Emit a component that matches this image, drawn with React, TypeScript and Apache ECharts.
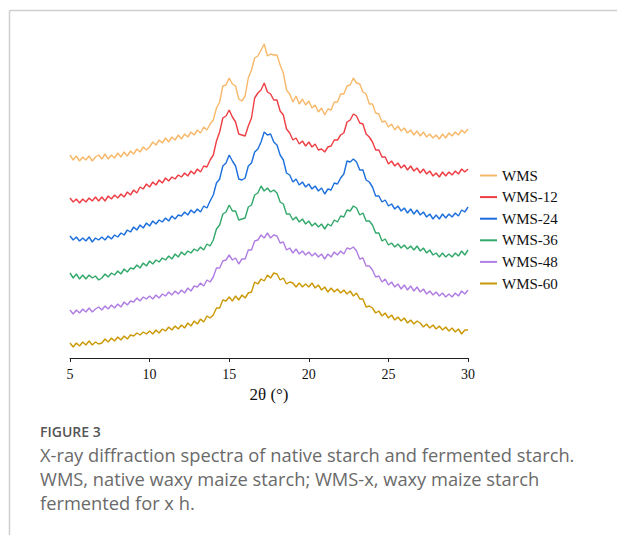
import React, { useEffect, useRef } from "react";
import * as echarts from "echarts";

// 2θ sampling grid of the diffractograms (degrees)
const thetaStart = 5;
const thetaStep = 0.2;
const xTicks = [5, 10, 15, 20, 25, 30];

const seriesNames = ["WMS", "WMS-12", "WMS-24", "WMS-36", "WMS-48", "WMS-60"];
const seriesColors = ["#F8B86A", "#EE3E44", "#1C6FDC", "#33A86B", "#B07EE2", "#CB9906"];

// Intensities (a.u., stacked with offsets as displayed), 5.0° → 30.0° every 0.2°
const wms = [
  203, 198, 202, 197, 201,
  198, 202, 197, 201, 203,
  199, 204, 199, 203, 200,
  205, 201, 206, 202, 207,
  204, 209, 206, 211, 208,
  211, 216, 213, 218, 215,
  220, 216, 221, 218, 223,
  219, 224, 221, 226, 223,
  228, 225, 231, 228, 234,
  238, 250, 256, 272, 273,
  280, 274, 272, 259, 257,
  262, 280, 288, 300, 302,
  308, 314, 302, 304, 303,
  303, 293, 285, 268, 264,
  256, 262, 254, 259, 253,
  257, 250, 253, 246, 250,
  243, 249, 248, 256, 256,
  264, 264, 272, 273, 280,
  275, 274, 266, 264, 254,
  254, 245, 244, 236, 237,
  231, 234, 228, 232, 227,
  230, 225, 228, 223, 227,
  222, 226, 221, 224, 220,
  223, 219, 224, 220, 225,
  222, 226, 223, 228, 225,
  229,
];
const wms12 = [
  160, 156, 159, 155, 159,
  156, 160, 157, 161, 157,
  161, 157, 162, 159, 163,
  160, 164, 161, 166, 163,
  168, 165, 171, 169, 174,
  171, 176, 173, 178, 175,
  180, 177, 181, 179, 183,
  181, 185, 182, 187, 184,
  189, 186, 192, 191, 198,
  203, 217, 226, 240, 242,
  248, 241, 236, 224, 223,
  222, 232, 240, 260, 265,
  268, 275, 266, 264, 258,
  258, 247, 243, 229, 225,
  218, 220, 214, 217, 212,
  216, 211, 214, 208, 209,
  206, 211, 212, 218, 218,
  223, 225, 236, 238, 244,
  242, 235, 234, 224, 221,
  216, 208, 208, 201, 201,
  194, 197, 192, 195, 190,
  193, 188, 192, 187, 190,
  185, 189, 184, 187, 182,
  185, 181, 186, 182, 186,
  183, 187, 184, 189, 186,
  189,
];
const wms24 = [
  122, 118, 121, 117, 120,
  117, 121, 116, 120, 118,
  121, 118, 122, 119, 123,
  121, 125, 123, 128, 126,
  131, 128, 133, 130, 135,
  132, 137, 134, 138, 136,
  140, 137, 142, 139, 143,
  142, 146, 143, 148, 145,
  149, 146, 152, 150, 157,
  163, 175, 179, 192, 195,
  203, 197, 192, 179, 178,
  180, 192, 195, 206, 209,
  216, 226, 223, 224, 216,
  213, 203, 198, 185, 183,
  176, 179, 173, 176, 171,
  174, 169, 172, 167, 170,
  164, 169, 168, 175, 174,
  180, 184, 197, 196, 199,
  196, 188, 188, 178, 176,
  171, 162, 162, 156, 158,
  152, 154, 149, 152, 147,
  150, 145, 149, 144, 148,
  143, 146, 141, 144, 139,
  143, 139, 144, 140, 144,
  141, 145, 142, 148, 146,
  151,
];
const wms36 = [
  85, 80, 84, 79, 83,
  79, 83, 80, 82, 78,
  80, 84, 81, 85, 83,
  87, 84, 89, 86, 90,
  89, 93, 90, 95, 92,
  97, 94, 98, 96, 100,
  98, 102, 99, 104, 101,
  106, 103, 107, 105, 109,
  107, 111, 108, 114, 112,
  118, 129, 133, 144, 146,
  153, 147, 147, 138, 139,
  140, 151, 153, 163, 165,
  172, 167, 170, 166, 168,
  165, 156, 154, 144, 144,
  138, 141, 136, 139, 134,
  137, 132, 135, 131, 134,
  129, 134, 132, 138, 136,
  142, 141, 148, 147, 152,
  150, 143, 145, 137, 137,
  133, 125, 125, 117, 119,
  113, 115, 111, 114, 110,
  113, 109, 112, 108, 112,
  107, 110, 105, 108, 103,
  105, 101, 105, 101, 104,
  101, 105, 102, 107, 103,
  108,
];
const wms48 = [
  48, 44, 48, 45, 49,
  46, 50, 46, 49, 51,
  48, 52, 49, 53, 50,
  54, 51, 56, 53, 57,
  56, 60, 57, 61, 59,
  62, 59, 63, 60, 64,
  62, 66, 63, 67, 64,
  68, 65, 70, 67, 72,
  71, 75, 72, 78, 76,
  81, 90, 90, 97, 98,
  103, 98, 100, 94, 99,
  99, 108, 108, 117, 118,
  123, 120, 125, 120, 123,
  122, 115, 116, 108, 110,
  105, 109, 104, 107, 103,
  106, 102, 105, 101, 104,
  99, 104, 101, 106, 103,
  107, 104, 110, 109, 111,
  107, 99, 100, 92, 92,
  88, 81, 82, 76, 79,
  73, 76, 71, 74, 69,
  73, 68, 72, 67, 71,
  66, 69, 64, 67, 63,
  66, 62, 65, 61, 64,
  61, 65, 62, 67, 64,
  68,
];
const wms60 = [
  15, 11, 15, 12, 16,
  13, 17, 13, 16, 14,
  15, 19, 16, 20, 17,
  21, 18, 22, 19, 23,
  22, 25, 23, 26, 24,
  27, 24, 28, 25, 29,
  27, 31, 28, 32, 29,
  33, 30, 35, 32, 37,
  34, 39, 36, 42, 40,
  43, 50, 50, 58, 57,
  61, 57, 62, 58, 63,
  60, 65, 66, 76, 74,
  79, 77, 83, 80, 85,
  84, 78, 80, 74, 76,
  75, 71, 75, 71, 74,
  71, 75, 70, 73, 68,
  71, 66, 70, 66, 69,
  65, 68, 64, 67, 62,
  65, 59, 59, 51, 52,
  50, 45, 47, 42, 45,
  40, 43, 38, 41, 37,
  40, 35, 38, 34, 37,
  35, 31, 34, 30, 33,
  29, 32, 28, 31, 27,
  30, 26, 29, 24, 28,
  28,
];
const seriesValues = [wms, wms12, wms24, wms36, wms48, wms60];

const captionTitle = "FIGURE 3";
const captionLines = [
  "X-ray diffraction spectra of native starch and fermented starch.",
  "WMS, native waxy maize starch; WMS-x, waxy maize starch",
  "fermented for x h.",
];

export default function App() {
  const ref = useRef<HTMLDivElement>(null);
  useEffect(() => {
    document.body.style.margin = "0";
    if (!ref.current) return;
    const chart = echarts.init(ref.current, null, { renderer: "svg" });
    const serif = "'Liberation Serif', 'Times New Roman', serif";
    chart.setOption({
      animation: false,
      backgroundColor: "#ffffff",
      grid: { left: 70, right: 149, top: 30, bottom: 177 },
      xAxis: {
        type: "value",
        min: xTicks[0],
        max: xTicks[xTicks.length - 1],
        interval: 5,
        name: "2θ (°)",
        nameLocation: "middle",
        nameGap: 21,
        nameTextStyle: { fontFamily: serif, fontSize: 17, color: "#111" },
        axisLine: { lineStyle: { color: "#222", width: 1 } },
        axisTick: { length: 4, lineStyle: { color: "#222" } },
        axisLabel: { fontFamily: serif, fontSize: 14, color: "#111", margin: 9 },
        splitLine: { show: false },
      },
      yAxis: { type: "value", min: 0, max: 328, show: false },
      legend: {
        orient: "vertical",
        left: 480,
        top: 168,
        padding: 0,
        icon: "rect",
        itemWidth: 17,
        itemHeight: 2,
        itemGap: 6.6,
        data: seriesNames,
        textStyle: { fontFamily: serif, fontSize: 15, color: "#111", lineHeight: 15 },
      },
      series: seriesNames.map((name, i) => ({
        name,
        type: "line",
        showSymbol: false,
        color: seriesColors[i],
        lineStyle: { width: 1.4, color: seriesColors[i] },
        data: seriesValues[i].map((v, k) => [thetaStart + k * thetaStep, v]),
      })),
      graphic: [
        { type: "line", shape: { x1: 9.5, y1: 10.5, x2: 617, y2: 10.5 }, style: { stroke: "#cfcfcf", lineWidth: 1.5 } },
        { type: "line", shape: { x1: 9.5, y1: 10.5, x2: 9.5, y2: 535 }, style: { stroke: "#cfcfcf", lineWidth: 1.5 } },
        {
          type: "text",
          left: 40,
          top: 424,
          style: { text: captionTitle, fontFamily: "'Open Sans', sans-serif", fontSize: 14, fontWeight: 600, fill: "#555" },
        },
        ...captionLines.map((t, i) => ({
          type: "text",
          left: 40,
          top: 445 + i * 24,
          style: { text: t, fontFamily: "'Open Sans', sans-serif", fontSize: 18.3, fontWeight: 400, fill: "#6a6a6a" },
        })),
      ],
    });
    return () => chart.dispose();
  }, []);
  return <div ref={ref} style={{ width: 617, height: 535 }} />;
}
